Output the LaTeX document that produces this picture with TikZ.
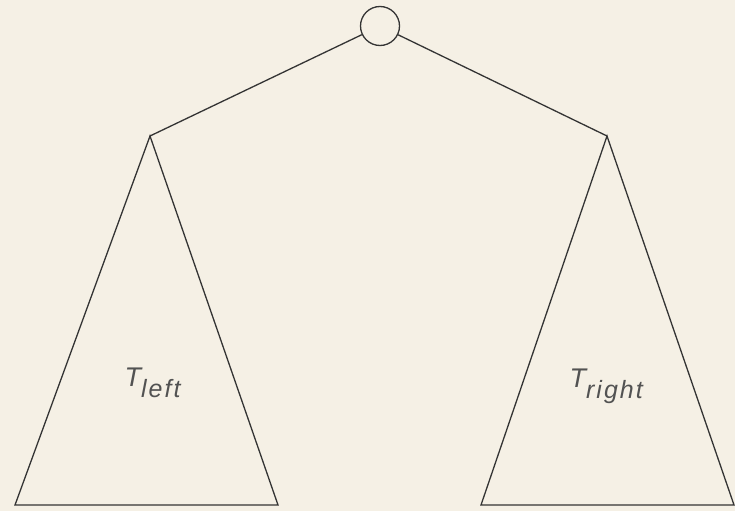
\documentclass[tikz,border=0pt]{standalone}
\usepackage{fontspec}
\setmainfont{Liberation Sans}
\usepackage{tikz}
\usetikzlibrary{positioning, calc}
\definecolor{paper}{RGB}{245,240,229}
\definecolor{ink}{RGB}{52,52,52}
\newcommand{\subtext}[1]{\raisebox{-11pt}{\fontsize{25}{27}\selectfont\addfontfeature{LetterSpace=8}#1}}

\begin{document}
\begin{tikzpicture}[x=1pt, y=-1pt, line width=1.3pt,
    subtree/.style={draw=ink, line join=miter},
    treelabel/.style={anchor=base west, inner sep=0pt, text=ink!85, font=\fontsize{27}{29}\selectfont\itshape}]
    \fill[paper] (0,0) rectangle (735,511);
    \useasboundingbox (0,0) rectangle (735,511);
    \node[circle, draw=ink, minimum size=39pt, inner sep=0pt] (root) at (380,26) {};
    \coordinate (lapex) at (150,136);
    \coordinate (lbl) at (15,505);
    \coordinate (lbr) at (278,505);
    \coordinate (rapex) at (607,136);
    \coordinate (rbl) at (481,505);
    \coordinate (rbr) at (734,505);
    \draw[ink] (root) -- (lapex);
    \draw[ink] (root) -- (rapex);
    \draw[subtree] (lapex) -- (lbl) -- (lbr) -- cycle;
    \draw[subtree] (rapex) -- (rbl) -- (rbr) -- cycle;
    \node[treelabel] (tleft) at (124,386) {T\subtext{left}};
    \node[treelabel] (tright) at (569,387) {T\subtext{right}};
\end{tikzpicture}
\end{document}
